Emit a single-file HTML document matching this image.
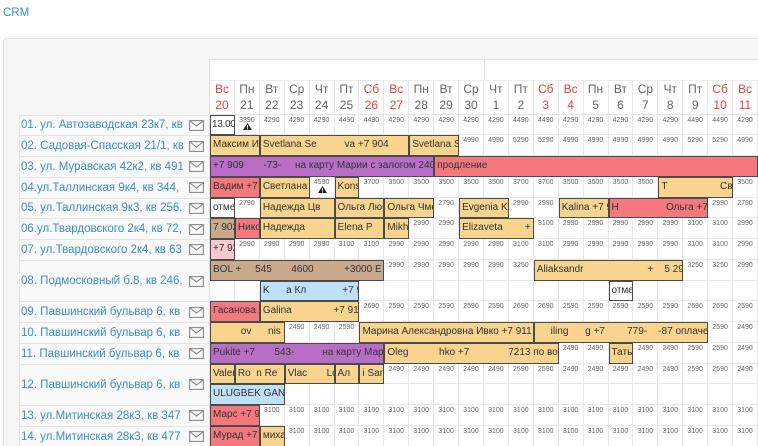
<!DOCTYPE html>
<html><head><meta charset="utf-8">
<style>
*{margin:0;padding:0;box-sizing:border-box}
html,body{width:758px;height:446px;overflow:hidden;background:#fff;font-family:"Liberation Sans","Noto Sans CJK SC",sans-serif}
#root{position:relative;width:758px;height:446px;overflow:hidden}
.crm{position:absolute;left:3px;top:7px;font-size:11.5px;color:#3c8dcb}
.panel{position:absolute;left:3px;top:38px;width:755px;height:408px;background:#f6f6f6;border-top:1px solid #e4e4e4;border-left:1px solid #e4e4e4;border-top-left-radius:4px}
.white{position:absolute;left:209px;top:59px;width:549px;height:387px;background:#fff;border-top:1px solid #e4e4e4;border-left:1px solid #e4e4e4}
.mline{position:absolute;left:209px;top:80px;width:549px;height:1px;background:#ebebeb}
.mvert{position:absolute;left:484px;top:59px;width:1px;height:21px;background:#e4e4e4}
.hdr{position:absolute;left:210px;top:80px;display:grid;grid-template-columns:repeat(22,24.909px);grid-auto-rows:34.5px}
.hdr div{border-right:1px solid #e8e8e8;border-bottom:1px solid #e4e4e4;text-align:center;font-size:12px;line-height:16.5px;color:#666;padding-top:0.5px}
.hdr div.we{color:#e8433d}
.g{position:absolute;left:210px;top:114.5px;width:548px;height:331.5px;overflow:hidden;display:grid;grid-template-columns:repeat(22,24.909px);grid-auto-rows:20.75px}
.c{border-right:1px solid #e8e8e8;border-bottom:1px solid #e8e8e8;font-size:7px;color:#666;text-align:center;line-height:8px;padding-top:2px;position:relative;background:#fff}
.c svg{position:absolute;left:8px;bottom:4px}
.b{border:1px solid #4a4a4a;font-size:10px;color:#333;white-space:pre;overflow:hidden;line-height:18.75px;padding-left:2px}
.t{background:#f9d48e}.r{background:#f4797e}.p{background:#b86dc7}.lb{background:#bfe1f7}.br{background:#c8a98b}.pk{background:#f9c8d2}.w{background:#fff}
.s2{grid-column:span 2}.s3{grid-column:span 3}.s4{grid-column:span 4}.s5{grid-column:span 5}.s6{grid-column:span 6}.s7{grid-column:span 7}.s9{grid-column:span 9}.s10{grid-column:span 10}.s13{grid-column:span 13}.s19{grid-column:span 19}
.gl{position:absolute;left:209px;top:114.5px;width:1px;height:331.5px;background:#e4e4e4}
.lab{position:absolute;left:19px;top:114.5px;width:190px;height:331.5px;overflow:hidden;display:grid;grid-template-columns:190px;grid-auto-rows:20.75px;border-left:1px solid #e4e4e4;border-top:1px solid #e4e4e4}
.lab div{position:relative;border-bottom:1px solid #e4e4e4;background:#f9f9f9}
.lab div.d{grid-row:span 2}
.lab span{position:absolute;left:1px;top:50%;transform:translateY(-50%);width:162px;overflow:hidden;white-space:nowrap;font-size:11.5px;color:#3c8dcb;line-height:14px}
.lab svg{position:absolute;left:169px;top:50%;margin-top:-5.5px}
</style></head><body><div id="root">
<div class="crm">CRM</div>
<div class="panel"></div>
<div class="white"></div>
<div class="mline"></div>
<div class="mvert"></div>
<div class="hdr">
<div class="we">Вс<br>20</div><div>Пн<br>21</div><div>Вт<br>22</div><div>Ср<br>23</div><div>Чт<br>24</div><div>Пт<br>25</div><div class="we">Сб<br>26</div><div class="we">Вс<br>27</div><div>Пн<br>28</div><div>Вт<br>29</div><div>Ср<br>30</div><div>Чт<br>1</div><div>Пт<br>2</div><div class="we">Сб<br>3</div><div class="we">Вс<br>4</div><div>Пн<br>5</div><div>Вт<br>6</div><div>Ср<br>7</div><div>Чт<br>8</div><div>Пт<br>9</div><div class="we">Сб<br>10</div><div class="we">Вс<br>11</div>
</div>

<div class="lab">
<div><span>01. ул. Автозаводская 23к7, кв</span><svg width="15" height="11"><rect x="0.6" y="0.6" width="13.8" height="9.8" fill="none" stroke="#8a8a8a" stroke-width="1.1"/><polyline points="0.8,0.8 7.5,6 14.2,0.8" fill="none" stroke="#8a8a8a" stroke-width="1.1"/></svg></div>
<div><span>02. Садовая-Спасская 21/1, кв</span><svg width="15" height="11"><rect x="0.6" y="0.6" width="13.8" height="9.8" fill="none" stroke="#8a8a8a" stroke-width="1.1"/><polyline points="0.8,0.8 7.5,6 14.2,0.8" fill="none" stroke="#8a8a8a" stroke-width="1.1"/></svg></div>
<div><span>03. ул. Муравская 42к2, кв 491</span><svg width="15" height="11"><rect x="0.6" y="0.6" width="13.8" height="9.8" fill="none" stroke="#8a8a8a" stroke-width="1.1"/><polyline points="0.8,0.8 7.5,6 14.2,0.8" fill="none" stroke="#8a8a8a" stroke-width="1.1"/></svg></div>
<div><span>04.ул.Таллинская 9к4, кв 344,</span><svg width="15" height="11"><rect x="0.6" y="0.6" width="13.8" height="9.8" fill="none" stroke="#8a8a8a" stroke-width="1.1"/><polyline points="0.8,0.8 7.5,6 14.2,0.8" fill="none" stroke="#8a8a8a" stroke-width="1.1"/></svg></div>
<div><span>05. ул.Таллинская 9к3, кв 256,</span><svg width="15" height="11"><rect x="0.6" y="0.6" width="13.8" height="9.8" fill="none" stroke="#8a8a8a" stroke-width="1.1"/><polyline points="0.8,0.8 7.5,6 14.2,0.8" fill="none" stroke="#8a8a8a" stroke-width="1.1"/></svg></div>
<div><span>06.ул.Твардовского 2к4, кв 72,</span><svg width="15" height="11"><rect x="0.6" y="0.6" width="13.8" height="9.8" fill="none" stroke="#8a8a8a" stroke-width="1.1"/><polyline points="0.8,0.8 7.5,6 14.2,0.8" fill="none" stroke="#8a8a8a" stroke-width="1.1"/></svg></div>
<div><span>07. ул.Твардовского 2к4, кв 63</span><svg width="15" height="11"><rect x="0.6" y="0.6" width="13.8" height="9.8" fill="none" stroke="#8a8a8a" stroke-width="1.1"/><polyline points="0.8,0.8 7.5,6 14.2,0.8" fill="none" stroke="#8a8a8a" stroke-width="1.1"/></svg></div>
<div class="d"><span>08. Подмосковный б.8, кв 246,</span><svg width="15" height="11"><rect x="0.6" y="0.6" width="13.8" height="9.8" fill="none" stroke="#8a8a8a" stroke-width="1.1"/><polyline points="0.8,0.8 7.5,6 14.2,0.8" fill="none" stroke="#8a8a8a" stroke-width="1.1"/></svg></div>
<div><span>09. Павшинский бульвар 6, кв</span><svg width="15" height="11"><rect x="0.6" y="0.6" width="13.8" height="9.8" fill="none" stroke="#8a8a8a" stroke-width="1.1"/><polyline points="0.8,0.8 7.5,6 14.2,0.8" fill="none" stroke="#8a8a8a" stroke-width="1.1"/></svg></div>
<div><span>10. Павшинский бульвар 6, кв</span><svg width="15" height="11"><rect x="0.6" y="0.6" width="13.8" height="9.8" fill="none" stroke="#8a8a8a" stroke-width="1.1"/><polyline points="0.8,0.8 7.5,6 14.2,0.8" fill="none" stroke="#8a8a8a" stroke-width="1.1"/></svg></div>
<div><span>11. Павшинский бульвар 6, кв</span><svg width="15" height="11"><rect x="0.6" y="0.6" width="13.8" height="9.8" fill="none" stroke="#8a8a8a" stroke-width="1.1"/><polyline points="0.8,0.8 7.5,6 14.2,0.8" fill="none" stroke="#8a8a8a" stroke-width="1.1"/></svg></div>
<div class="d"><span>12. Павшинский бульвар 6, кв</span><svg width="15" height="11"><rect x="0.6" y="0.6" width="13.8" height="9.8" fill="none" stroke="#8a8a8a" stroke-width="1.1"/><polyline points="0.8,0.8 7.5,6 14.2,0.8" fill="none" stroke="#8a8a8a" stroke-width="1.1"/></svg></div>
<div><span>13. ул.Митинская 28к3, кв 347</span><svg width="15" height="11"><rect x="0.6" y="0.6" width="13.8" height="9.8" fill="none" stroke="#8a8a8a" stroke-width="1.1"/><polyline points="0.8,0.8 7.5,6 14.2,0.8" fill="none" stroke="#8a8a8a" stroke-width="1.1"/></svg></div>
<div><span>14. ул.Митинская 28к3, кв 477</span><svg width="15" height="11"><rect x="0.6" y="0.6" width="13.8" height="9.8" fill="none" stroke="#8a8a8a" stroke-width="1.1"/><polyline points="0.8,0.8 7.5,6 14.2,0.8" fill="none" stroke="#8a8a8a" stroke-width="1.1"/></svg></div>
</div>

<div class="gl"></div>
<div class="g">
<!-- u0 -->
<div class="b w" style="padding-left:1px;letter-spacing:-0.3px">13.00</div>
<div class="c">3390<svg width="9" height="7"><polygon points="4.5,0 9,7 0,7" fill="#222"/><rect x="4" y="2.2" width="1" height="2.6" fill="#fff"/><rect x="4" y="5.4" width="1" height="1" fill="#fff"/></svg></div>
<div class="c">4290</div><div class="c">4290</div><div class="c">4290</div><div class="c">4490</div><div class="c">4490</div><div class="c">4290</div><div class="c">4290</div><div class="c">4290</div><div class="c">4290</div><div class="c">4290</div><div class="c">4490</div><div class="c">4490</div><div class="c">4290</div><div class="c">4290</div><div class="c">4290</div><div class="c">4290</div><div class="c">4290</div><div class="c">4490</div><div class="c">4490</div><div class="c">4290</div>
<!-- u1 -->
<div class="b t s2">Максим Ил</div>
<div class="b t s6">Svetlana Se          va +7 904       -</div>
<div class="b t s2">Svetlana S</div>
<div class="c">4990</div><div class="c">4990</div><div class="c">5290</div><div class="c">5290</div><div class="c">4990</div><div class="c">4990</div><div class="c">4990</div><div class="c">4990</div><div class="c">4990</div><div class="c">5290</div><div class="c">5290</div><div class="c">4990</div>
<!-- u2 -->
<div class="b p s9">+7 909       -73-     на карту Марии с залогом 240</div>
<div class="b r s13">продление</div>
<!-- u3 -->
<div class="b r s2">Вадим +7 </div>
<div class="b t s2">Светлана </div>
<div class="c">4590<svg width="9" height="7"><polygon points="4.5,0 9,7 0,7" fill="#222"/><rect x="4" y="2.2" width="1" height="2.6" fill="#fff"/><rect x="4" y="5.4" width="1" height="1" fill="#fff"/></svg></div>
<div class="b t">Konst</div>
<div class="c">3700</div><div class="c">3500</div><div class="c">3500</div><div class="c">3500</div><div class="c">3500</div><div class="c">3500</div><div class="c">3700</div><div class="c">3700</div><div class="c">3500</div><div class="c">3500</div><div class="c">3500</div><div class="c">3500</div>
<div class="b t s3">T                   Све</div>
<div class="c">3500</div>
<!-- u4 -->
<div class="b w">отмен</div>
<div class="c">2790</div>
<div class="b t s3">Надежда Цв</div>
<div class="b t s2">Ольга Люб</div>
<div class="b t s2">Ольга Чме</div>
<div class="c">2790</div>
<div class="b t s2">Evgenia Ko</div>
<div class="c">2990</div><div class="c">2990</div>
<div class="b t s2">Kalina +7 9</div>
<div class="b r s4">H                 Ольга +7</div>
<div class="c">2990</div><div class="c">2790</div>
<!-- u5 -->
<div class="b br">7 902</div>
<div class="b r">Нико</div>
<div class="b t s3">Надежда</div>
<div class="b t s2">Elena P</div>
<div class="b t">Mikha</div>
<div class="c">2990</div><div class="c">2990</div>
<div class="b t s3">Elizaveta        +</div>
<div class="c">3100</div><div class="c">2990</div><div class="c">2990</div><div class="c">2990</div><div class="c">2990</div><div class="c">2990</div><div class="c">3100</div><div class="c">3100</div><div class="c">2990</div>
<!-- u6 -->
<div class="b pk">+7 92</div>
<div class="c">2990</div><div class="c">2990</div><div class="c">2990</div><div class="c">2990</div><div class="c">3100</div><div class="c">3100</div><div class="c">2990</div><div class="c">2990</div><div class="c">2990</div><div class="c">2990</div><div class="c">2990</div><div class="c">3100</div><div class="c">3100</div><div class="c">2990</div><div class="c">2990</div><div class="c">2990</div><div class="c">2990</div><div class="c">2990</div><div class="c">3100</div><div class="c">3100</div><div class="c">2990</div>
<!-- u7 -->
<div class="b br s7">BOL +     545       4600           +3000 E</div>
<div class="c">2990</div><div class="c">2990</div><div class="c">2990</div><div class="c">2990</div><div class="c">2990</div><div class="c">3250</div>
<div class="b t s6">Aliaksandr                       +    5 29</div>
<div class="c">3250</div><div class="c">3250</div><div class="c">2990</div>
<!-- u8 -->
<div class="c"></div><div class="c"></div>
<div class="b lb s4">K      а Кл             +7 92</div>
<div class="c"></div><div class="c"></div><div class="c"></div><div class="c"></div><div class="c"></div><div class="c"></div><div class="c"></div><div class="c"></div><div class="c"></div><div class="c"></div>
<div class="b w">отмен</div>
<div class="c"></div><div class="c"></div><div class="c"></div><div class="c"></div><div class="c"></div>
<!-- u9 -->
<div class="b r s2">Гасанова /</div>
<div class="b t s4">Galina               +7 910</div>
<div class="c">2690</div><div class="c">2590</div><div class="c">2590</div><div class="c">2590</div><div class="c">2590</div><div class="c">2590</div><div class="c">2690</div><div class="c">2690</div><div class="c">2590</div><div class="c">2590</div><div class="c">2590</div><div class="c">2590</div><div class="c">2590</div><div class="c">2690</div><div class="c">2690</div><div class="c">2590</div>
<!-- u10 -->
<div class="b t s3">          ov      nis</div>
<div class="c">2490</div><div class="c">2490</div><div class="c">2590</div>
<div class="b t s7">Марина Александровна Ивко +7 911 </div>
<div class="b t s7">     iling      g +7        779-    -87 оплаче</div>
<div class="c">2590</div><div class="c">2490</div>
<!-- u11 -->
<div class="b p s7">Pukite +7       543-          на карту Мар</div>
<div class="b t s7">Oleg           hko +7              7213 по во</div>
<div class="c">2490</div><div class="c">2490</div>
<div class="b t">Татья</div>
<div class="c">2490</div><div class="c">2490</div><div class="c">2590</div><div class="c">2590</div><div class="c">2490</div>
<!-- u12 -->
<div class="b t">Valen</div>
<div class="b t s2">Ro  n Re</div>
<div class="b t s2">Vlac       Lo</div>
<div class="b t">Ал</div>
<div class="b t">i San</div>
<div class="c">2490</div><div class="c">2490</div><div class="c">2490</div><div class="c">2490</div><div class="c">2490</div><div class="c">2590</div><div class="c">2590</div><div class="c">2490</div><div class="c">2490</div><div class="c">2490</div><div class="c">2490</div><div class="c">2490</div><div class="c">2590</div><div class="c">2590</div><div class="c">2490</div>
<!-- u13 -->
<div class="b lb s3">ULUGBEK GANI</div>
<div class="c"></div><div class="c"></div><div class="c"></div><div class="c"></div><div class="c"></div><div class="c"></div><div class="c"></div><div class="c"></div><div class="c"></div><div class="c"></div><div class="c"></div><div class="c"></div><div class="c"></div><div class="c"></div><div class="c"></div><div class="c"></div><div class="c"></div><div class="c"></div><div class="c"></div>
<!-- u14 -->
<div class="b r s2">Марс +7 9</div>
<div class="c">3100</div><div class="c">3100</div><div class="c">3100</div><div class="c">3100</div><div class="c">3100</div><div class="c">3100</div><div class="c">3100</div><div class="c">3100</div><div class="c">3100</div><div class="c">3100</div><div class="c">3100</div><div class="c">3100</div><div class="c">3100</div><div class="c">3100</div><div class="c">3100</div><div class="c">3100</div><div class="c">3100</div><div class="c">3100</div><div class="c">3100</div><div class="c">3100</div>
<!-- u15 -->
<div class="b r s2">Мурад +7 </div>
<div class="b t">миха</div>
<div class="c">3100</div><div class="c">3100</div><div class="c">3100</div><div class="c">3100</div><div class="c">3100</div><div class="c">3100</div><div class="c">3100</div><div class="c">3100</div><div class="c">3100</div><div class="c">3100</div><div class="c">3100</div><div class="c">3100</div><div class="c">3100</div><div class="c">3100</div><div class="c">3100</div><div class="c">3100</div><div class="c">3100</div><div class="c">3100</div><div class="c">3100</div>
</div>
</div></body></html>
